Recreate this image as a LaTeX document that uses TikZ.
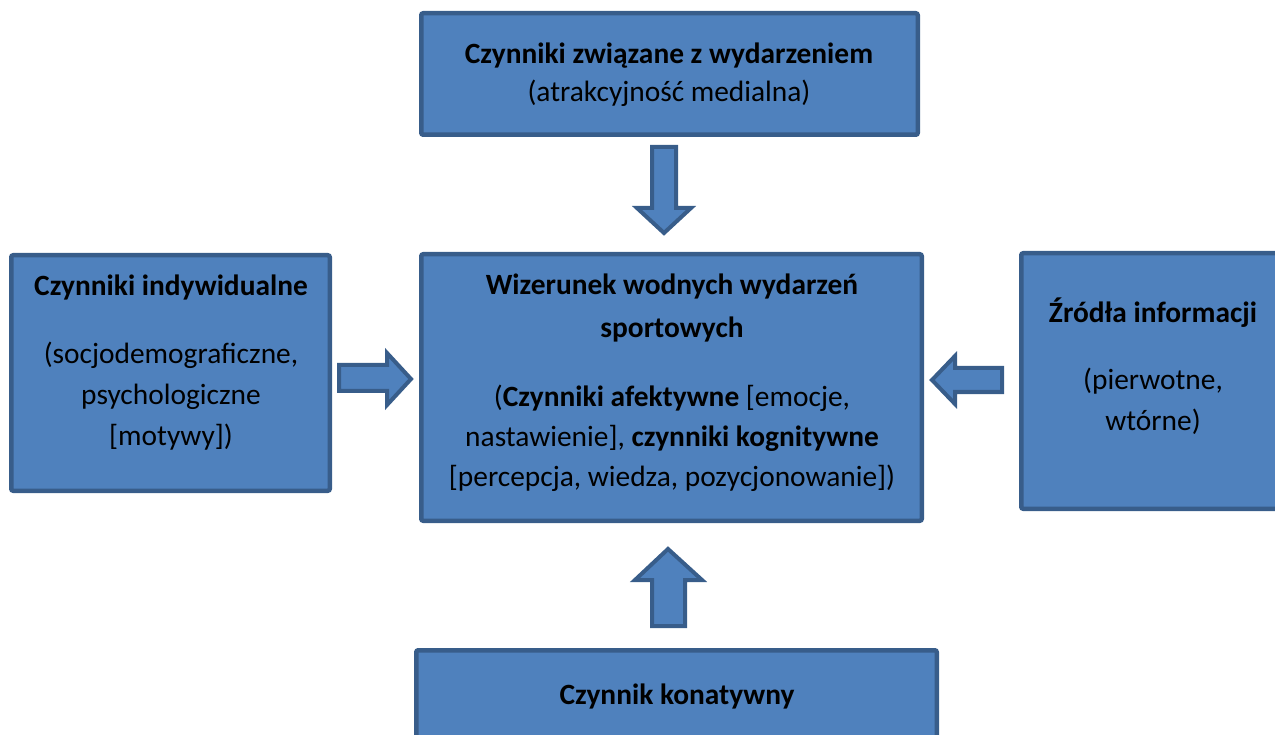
\documentclass[tikz,border=0pt]{standalone}
\usepackage{fontspec}
\setmainfont{Carlito}
\definecolor{boxfill}{HTML}{4F81BD}
\definecolor{boxline}{HTML}{385D8A}
\begin{document}
\begin{tikzpicture}[x=1pt,y=-1pt,
  box/.style={draw=boxline, fill=boxfill, line width=4.5pt, rounded corners=2pt, inner sep=0pt, rectangle},
  blockarrow/.style={draw=boxline, fill=boxfill, line width=4pt, line join=miter},
  txt/.style={align=center, inner sep=0pt, text=black, font=\fontsize{29.4}{40}\selectfont}]
\useasboundingbox (0,0) rectangle (1275,735);
\clip (0,0) rectangle (1275,735);

% boxes
\node[box, minimum width=496.5pt, minimum height=121.5pt] (top) at (669.5,74) {};
\node[box, minimum width=318.5pt, minimum height=235.5pt] (left) at (170.5,373) {};
\node[box, minimum width=500.5pt, minimum height=266.5pt] (center) at (671.5,387.5) {};
\node[box, minimum width=263.5pt, minimum height=255.5pt] (right) at (1153,381) {};
\node[box, minimum width=520.5pt, minimum height=93.5pt] (bottom) at (676.5,697) {};

% texts
\node[txt, font=\fontsize{29.4}{38}\selectfont] (topT) at (669,75.4)
  {\strut\textbf{Czynniki związane z wydarzeniem}\\\strut(atrakcyjność medialna)};
\node[txt, font=\fontsize{29.4}{41}\selectfont] (leftT) at (171,361.8)
  {\strut\textbf{Czynniki indywidualne}\\[27pt]\strut(socjodemograficzne,\\\strut psychologiczne\\\strut[motywy])};
\node[txt] (centerT) at (672,382)
  {\strut\textbf{Wizerunek wodnych wydarzeń}\\[3pt]\strut\textbf{sportowych}\\[29pt]%
   \strut(\textbf{Czynniki afektywne} [emocje,\\\strut nastawienie], \textbf{czynniki kognitywne}\\%
   \strut[percepcja, wiedza, pozycjonowanie])};
\node[txt] (rightT) at (1153,368)
  {\strut\textbf{Źródła informacji}\\[28pt]\strut(pierwotne,\\\strut wtórne)};
\node[txt] (bottomT) at (677,696) {\strut\textbf{Czynnik konatywny}};

% block arrows
\draw[blockarrow] (652,147) -- (676,147) -- (676,208) -- (691,208) -- (664,233) -- (637,208) -- (652,208) -- cycle;
\draw[blockarrow] (339,365) -- (387,365) -- (387,353) -- (411,379) -- (387,405) -- (387,391) -- (339,391) -- cycle;
\draw[blockarrow] (1002,368) -- (955,368) -- (955,356) -- (932,380) -- (955,404) -- (955,392) -- (1002,392) -- cycle;
\draw[blockarrow] (652,626) -- (652,580) -- (635,580) -- (668,549) -- (702,580) -- (685,580) -- (685,626) -- cycle;
\end{tikzpicture}
\end{document}
